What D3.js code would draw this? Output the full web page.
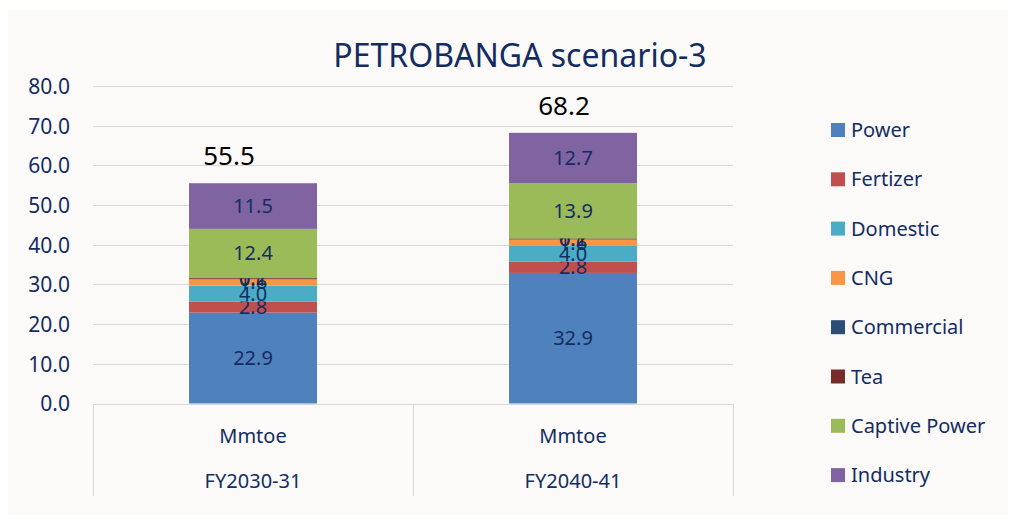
<!doctype html>
<html>
<head>
<meta charset="UTF-8">
<title>PETROBANGA scenario-3</title>
<script src="https://d3js.org/d3.v7.min.js"></script>
<style>
  body { margin: 0; background: #ffffff; }
  svg { display: block; font-family: "Noto Sans", sans-serif; }
</style>
</head>
<body>
<svg width="1015" height="522"></svg>
<script>
// data
var years = ["FY2030-31", "FY2040-41"];
var unitLabel = "Mmtoe";
var sectors = ["Power", "Fertizer", "Domestic", "CNG", "Commercial", "Tea", "Captive Power", "Industry"];
var fy2030 = [22.9, 2.8, 4.0, 1.6, 0.1, 0.2, 12.4, 11.5];
var fy2040 = [32.9, 2.8, 4.0, 1.6, 0.1, 0.2, 13.9, 12.7];
var totals = [55.5, 68.2];
var yTicks = [0, 10, 20, 30, 40, 50, 60, 70, 80];
var colors = ["#4f81bd", "#c0504d", "#4bacc6", "#f79646", "#2c4d75", "#772c2a", "#9bbb59", "#8064a2"];

var navy = "#132c62";
var svg = d3.select("svg");

svg.append("rect").attr("x", 8).attr("y", 10).attr("width", 1000).attr("height", 505)
    .attr("fill", "#fbfaf9");

var x = d3.scaleBand().domain(years).range([93, 733]).padding(0);
var y = d3.scaleLinear().domain([0, 80]).range([403.5, 86]);
var barW = x.bandwidth() * 0.4;

// gridlines
svg.append("g").selectAll("line").data(yTicks).enter().append("line")
    .attr("x1", 93).attr("x2", 733)
    .attr("y1", function (d) { return Math.round(y(d)) + 0.5; })
    .attr("y2", function (d) { return Math.round(y(d)) + 0.5; })
    .attr("stroke", "#d9d9d9").attr("stroke-width", 1);

// y axis labels
var yAxis = d3.axisLeft(y).tickValues(yTicks).tickSize(0).tickPadding(0)
    .tickFormat(d3.format(".1f"));
var gy = svg.append("g").attr("transform", "translate(70,0)").call(yAxis);
gy.select(".domain").remove();
gy.selectAll("text").attr("font-size", 21).attr("fill", navy)
    .attr("font-family", "Noto Sans, sans-serif").attr("dy", "0.35em");

// stacked bars
var rows = years.map(function (yr, i) {
    var vals = i === 0 ? fy2030 : fy2040;
    var o = { year: yr };
    sectors.forEach(function (s, j) { o[s] = vals[j]; });
    return o;
});
var stack = d3.stack().keys(sectors)(rows);

var layers = svg.append("g").selectAll("g").data(stack).enter().append("g")
    .attr("fill", function (d, i) { return colors[i]; });

layers.selectAll("rect").data(function (d) { return d; }).enter().append("rect")
    .attr("x", function (d) { return x(d.data.year) + (x.bandwidth() - barW) / 2; })
    .attr("width", barW)
    .attr("y", function (d) { return y(d[1]); })
    .attr("height", function (d) { return y(d[0]) - y(d[1]); });

// segment labels
layers.selectAll("text").data(function (d) { return d; }).enter().append("text")
    .attr("x", function (d) { return x(d.data.year) + x.bandwidth() / 2; })
    .attr("y", function (d) { return y((d[0] + d[1]) / 2); })
    .attr("dy", "0.35em")
    .attr("text-anchor", "middle")
    .attr("font-size", 20)
    .attr("fill", navy)
    .text(function (d) { return d3.format(".1f")(d[1] - d[0]); });

// totals (text boxes sit a bit left of the bar centre)
var totalShift = [-24, -9];
svg.append("g").selectAll("text").data(years).enter().append("text")
    .attr("x", function (d, i) { return x(d) + x.bandwidth() / 2 + totalShift[i]; })
    .attr("y", function (d, i) { return y(totals[i]) - 18; })
    .attr("text-anchor", "middle")
    .attr("font-size", 26)
    .attr("fill", "#000")
    .text(function (d, i) { return d3.format(".1f")(totals[i]); });

// category axis (two levels)
var bounds = [93].concat(years.map(function (d) { return x(d) + x.bandwidth(); }));
svg.append("g").selectAll("line").data(bounds).enter().append("line")
    .attr("x1", function (d) { return d + 0.5; }).attr("x2", function (d) { return d + 0.5; })
    .attr("y1", 404).attr("y2", 496)
    .attr("stroke", "#d9d9d9");

var cat = svg.append("g").selectAll("g").data(years).enter().append("g");
cat.append("text")
    .attr("x", function (d) { return x(d) + x.bandwidth() / 2; })
    .attr("y", 443).attr("text-anchor", "middle")
    .attr("font-size", 20).attr("fill", navy).text(unitLabel);
cat.append("text")
    .attr("x", function (d) { return x(d) + x.bandwidth() / 2; })
    .attr("y", 488).attr("text-anchor", "middle")
    .attr("font-size", 20).attr("fill", navy).text(function (d) { return d; });

// title
svg.append("text").attr("x", 520).attr("y", 67).attr("text-anchor", "middle")
    .attr("font-size", 32).attr("fill", navy).text("PETROBANGA scenario-3");

// legend
var leg = svg.append("g").selectAll("g").data(sectors).enter().append("g")
    .attr("transform", function (d, i) { return "translate(831," + (130 + i * 49.3) + ")"; });
leg.append("rect").attr("x", 0).attr("y", -7).attr("width", 14).attr("height", 14)
    .attr("fill", function (d, i) { return colors[i]; });
leg.append("text").attr("x", 20).attr("dy", "0.35em")
    .attr("font-size", 20).attr("fill", navy).text(function (d) { return d; });
</script>
</body>
</html>
